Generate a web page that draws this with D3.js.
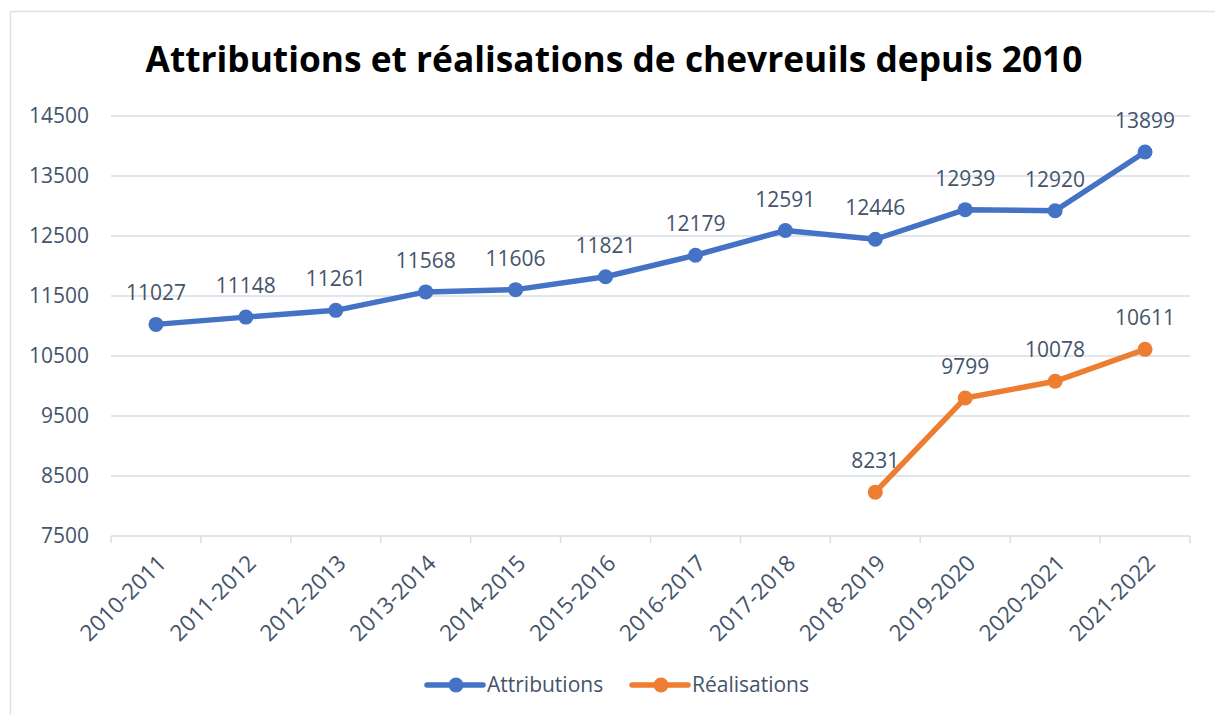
<!DOCTYPE html>
<html>
<head>
<meta charset="utf-8">
<script src="https://cdn.jsdelivr.net/npm/d3@7"></script>
<style>
  html, body { margin: 0; padding: 0; background: #fff; }
  svg { display: block; }
  text { font-family: "Open Sans", "Liberation Sans", sans-serif; }
</style>
</head>
<body>
<svg id="chart" width="1215" height="715"></svg>
<script>
// Hunting seasons
const seasons = ["2010-2011","2011-2012","2012-2013","2013-2014","2014-2015","2015-2016",
                 "2016-2017","2017-2018","2018-2019","2019-2020","2020-2021","2021-2022"];
// Roe deer allocated per season
const attributions = [11027,11148,11261,11568,11606,11821,12179,12591,12446,12939,12920,13899];
// Roe deer actually taken (recorded from 2018-2019 onwards)
const realisations = [null,null,null,null,null,null,null,null,8231,9799,10078,10611];
// Y axis ticks
const yTicks = [7500,8500,9500,10500,11500,12500,13500,14500];

const titleText = "Attributions et réalisations de chevreuils depuis 2010";
const series = [
  { name: "Attributions", values: attributions, color: "#4472C4" },
  { name: "Réalisations", values: realisations, color: "#ED7D31" }
];

const svg = d3.select("#chart");
const W = 1215, H = 715;
const plot = { left: 111, right: 1190, top: 116, bottom: 536 };
const textColor = "#44546A";
const gridColor = "#D9DEE6";

// Outer chart frame (continues past the right and bottom edges)
svg.append("rect")
  .attr("x", 10.5).attr("y", 11.5)
  .attr("width", W).attr("height", H)
  .attr("fill", "#fff")
  .attr("stroke", "#DCE2EA").attr("stroke-width", 1.5);

// Title
svg.append("text")
  .attr("x", 614).attr("y", 72)
  .attr("text-anchor", "middle")
  .attr("font-size", 35.3)
  .attr("font-weight", 700)
  .attr("fill", "#000")
  .text(titleText);

const x = d3.scaleBand().domain(seasons).range([plot.left, plot.right]);
const y = d3.scaleLinear().domain([7500, 14500]).range([plot.bottom, plot.top]);

// Horizontal gridlines
svg.append("g")
  .selectAll("line")
  .data(yTicks.slice(1))
  .join("line")
  .attr("x1", plot.left).attr("x2", plot.right)
  .attr("y1", d => y(d)).attr("y2", d => y(d))
  .attr("stroke", gridColor).attr("stroke-width", 1.5);

// Y axis labels
const yAxis = svg.append("g")
  .attr("transform", `translate(${plot.left},0)`)
  .call(d3.axisLeft(y).tickValues(yTicks).tickSize(0).tickPadding(22).tickFormat(d3.format("d")));
yAxis.select(".domain").remove();
yAxis.selectAll("text")
  .attr("font-size", 21)
  .attr("fill", textColor)
  .attr("font-family", "'Open Sans', sans-serif");

// X axis with tick marks between categories
const xAxisG = svg.append("g").attr("transform", `translate(0,${plot.bottom})`);
xAxisG.append("line")
  .attr("x1", plot.left).attr("x2", plot.right)
  .attr("y1", 0).attr("y2", 0)
  .attr("stroke", gridColor).attr("stroke-width", 1.5);
const boundaries = seasons.map(s => x(s)).concat([x(seasons[seasons.length - 1]) + x.bandwidth()]);
xAxisG.selectAll("line.tick")
  .data(boundaries)
  .join("line")
  .attr("class", "tick")
  .attr("x1", d => d).attr("x2", d => d)
  .attr("y1", 0).attr("y2", 7)
  .attr("stroke", gridColor).attr("stroke-width", 1.5);
xAxisG.selectAll("text")
  .data(seasons)
  .join("text")
  .attr("transform", d => `translate(${x(d) + x.bandwidth() / 2 + 6},${23}) rotate(-45)`)
  .attr("text-anchor", "end")
  .attr("dy", "0.35em")
  .attr("font-size", 22.5)
  .attr("fill", textColor)
  .text(d => d);

// Lines, markers and value labels
const line = d3.line()
  .defined(d => d != null)
  .x((d, i) => x(seasons[i]) + x.bandwidth() / 2)
  .y(d => y(d));

series.forEach(s => {
  const g = svg.append("g");
  g.append("path")
    .datum(s.values)
    .attr("d", line)
    .attr("fill", "none")
    .attr("stroke", s.color)
    .attr("stroke-width", 5.5)
    .attr("stroke-linejoin", "round")
    .attr("stroke-linecap", "round");
  const pts = s.values.map((v, i) => ({ v, i })).filter(p => p.v != null);
  g.selectAll("circle")
    .data(pts)
    .join("circle")
    .attr("cx", p => x(seasons[p.i]) + x.bandwidth() / 2)
    .attr("cy", p => y(p.v))
    .attr("r", 7.5)
    .attr("fill", s.color);
  g.selectAll("text")
    .data(pts)
    .join("text")
    .attr("x", p => x(seasons[p.i]) + x.bandwidth() / 2)
    .attr("y", p => y(p.v) - 24)
    .attr("text-anchor", "middle")
    .attr("font-size", 21)
    .attr("fill", textColor)
    .text(p => p.v);
});

// Legend
const legendItems = [
  { s: series[0], x: 427 },
  { s: series[1], x: 632 }
];
const ly = 685;
legendItems.forEach(it => {
  const g = svg.append("g");
  g.append("line")
    .attr("x1", it.x).attr("x2", it.x + 56)
    .attr("y1", ly).attr("y2", ly)
    .attr("stroke", it.s.color).attr("stroke-width", 5.5)
    .attr("stroke-linecap", "round");
  g.append("circle")
    .attr("cx", it.x + 29).attr("cy", ly).attr("r", 7.5)
    .attr("fill", it.s.color);
  g.append("text")
    .attr("x", it.x + 60).attr("y", ly)
    .attr("dy", "0.35em")
    .attr("font-size", 21)
    .attr("fill", textColor)
    .text(it.s.name);
});
</script>
</body>
</html>
